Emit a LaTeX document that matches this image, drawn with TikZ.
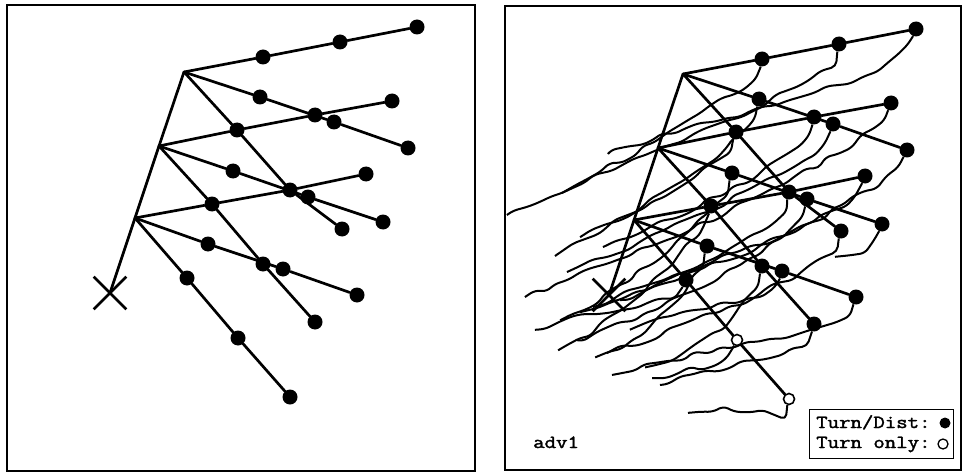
\documentclass[tikz,border=0pt]{standalone}
\usepackage{fontspec}
\newfontfamily\legendfont{Latin Modern Mono}[FakeBold=1.8]
\usetikzlibrary{decorations.pathmorphing,shapes.misc}

\tikzset{
  panel/.style={draw, line width=1.3pt},
  branch/.style={line width=2.7pt, line cap=round, line join=round},
  dot/.style={circle, fill=black, inner sep=0pt, minimum size=15pt},
  ring/.style={circle, draw, fill=white, line width=1.6pt, inner sep=0pt, minimum size=11pt},
  start/.style={draw, cross out, line width=2.7pt, inner sep=0pt, minimum size=30pt},
  traj/.style={line width=2pt, line join=round, decorate,
    decoration={random steps, segment length=13pt, amplitude=3.2pt}, rounded corners=5pt},
  legendtext/.style={font=\legendfont\fontsize{18.5}{20}\selectfont, inner sep=0pt, anchor=base west},
}
% wide typewriter lettering
\newcommand\widett[1]{\scalebox{1.2}[1]{#1}}

% Fan of turn/distance branches: #1 = name prefix,
% #2, #3 = styles of the two far marks on the lowest branch
\newcommand\fantree[3]{%
  \node[start] (#1X) at (110,293) {};
  \coordinate (#1C) at (135,218);
  \coordinate (#1B) at (159,146);
  \coordinate (#1A) at (184,72);
  % marks
  \node[dot] (#1a1) at (263,57) {};
  \node[dot] (#1a2) at (340,42) {};
  \node[dot] (#1a3) at (417,27) {};
  \node[dot] (#1m1) at (260,97) {};
  \node[dot] (#1m2) at (334,122) {};
  \node[dot] (#1m3) at (408,148) {};
  \node[dot] (#1s3) at (342,229) {};
  \node[dot] (#1p1) at (237,130) {};
  \node[dot] (#1p2) at (315,115) {};
  \node[dot] (#1p3) at (392,101) {};
  \node[dot] (#1q1) at (233,171) {};
  \node[dot] (#1q2) at (308,197) {};
  \node[dot] (#1q3) at (383,222) {};
  \node[dot] (#1r1) at (212,204) {};
  \node[dot] (#1r2) at (263,264) {};
  \node[dot] (#1r3) at (315,322) {};
  \node[dot] (#1u2) at (290,190) {};
  \node[dot] (#1u3) at (366,174) {};
  \node[dot] (#1v1) at (208,244) {};
  \node[dot] (#1v2) at (283,269) {};
  \node[dot] (#1v3) at (357,295) {};
  \node[dot] (#1w1) at (187,278) {};
  \node[#2] (#1w2) at (238,338) {};
  \node[#3] (#1w3) at (290,397) {};
  % stem and branches
  \draw[branch] (#1X.center) -- (#1C) -- (#1B) -- (#1A);
  \draw[branch] (#1A) -- (#1a1) -- (#1a2) -- (#1a3);
  \draw[branch] (#1A) -- (#1m1) -- (#1m2) -- (#1m3);
  \draw[branch] (#1A) -- (#1p1) -- (#1u2) -- (#1s3);
  \draw[branch] (#1B) -- (#1p1) -- (#1p2) -- (#1p3);
  \draw[branch] (#1B) -- (#1q1) -- (#1q2) -- (#1q3);
  \draw[branch] (#1B) -- (#1r1) -- (#1r2) -- (#1r3);
  \draw[branch] (#1C) -- (#1r1) -- (#1u2) -- (#1u3);
  \draw[branch] (#1C) -- (#1v1) -- (#1v2) -- (#1v3);
  \draw[branch] (#1C) -- (#1w1) -- (#1w2) -- (#1w3);
}

\begin{document}
\begin{tikzpicture}[x=1pt, y=-1pt]
  \useasboundingbox (0,0) rectangle (965,473);

  % left panel: planned branches
  \draw[panel] (7,5) rectangle (475,471);
  \fantree{l}{dot}{dot}

  % right panel: planned branches with recorded paths
  \draw[panel] (505,6) rectangle (961,470);
  \begin{scope}[shift={(499,2)}]
    \fantree{r}{ring}{ring}
  \end{scope}

  \pgfmathsetseed{23}
  \foreach \s/\x/\y/\a/\b/\c/\d in {
      ra3/608/154/-25/60/110/-40,
      ra2/507/215/-10/45/130/-60,
      ra1/562/193/-5/30/70/-40,
      rm1/580/237/-8/35/90/-40,
      rp1/555/256/-12/30/80/-45,
      rp2/603/247/-8/40/80/-30,
      rm2/567/272/-14/40/100/-40,
      rp3/525/297/-20/50/120/-45,
      rq1/560/320/-10/30/80/-35,
      ru2/580/312/-10/40/90/-30,
      rm3/620/300/-25/50/100/-35,
      rr1/558/350/-8/30/70/-30,
      rq2/577/340/-10/40/90/-30,
      ru3/593/307/-18/45/110/-45,
      rv1/595/357/-8/25/70/-25,
      rs3/607/353/-12/40/90/-30,
      rr2/645/367/-8/30/70/-15,
      rw3/688/413/-5/18/70/-10,
      rv2/630/330/-8/30/80/-30,
      rr3/660/385/-8/30/80/-25,
      rv3/612/375/-14/40/100/-30,
      rw1/535/330/-12/25/70/-25,
      rw2/652/378/-10/20/70/-15,
      rq3/835/257/-10/25/30/-10} {
    \coordinate (end-\s) at (\x,\y);
    \draw[traj] (\s) .. controls +(\a,\b) and +(\c,\d) .. (end-\s);
  }

  \node[legendtext] (runname) at (533,448) {\widett{adv1}};

  % legend
  \node[draw, line width=1.3pt, minimum width=144pt, minimum height=49pt,
        inner sep=0pt, anchor=north west] (legend) at (809,409) {};
  \node[legendtext] (lt1) at (816,428) {\widett{Turn/Dist:}};
  \node[dot, minimum size=11pt] (ld) at (945,423) {};
  \node[legendtext] (lt2) at (816,448) {\widett{Turn only:}};
  \node[ring, minimum size=10pt, line width=1.3pt] (lr) at (943,444) {};
\end{tikzpicture}
\end{document}
